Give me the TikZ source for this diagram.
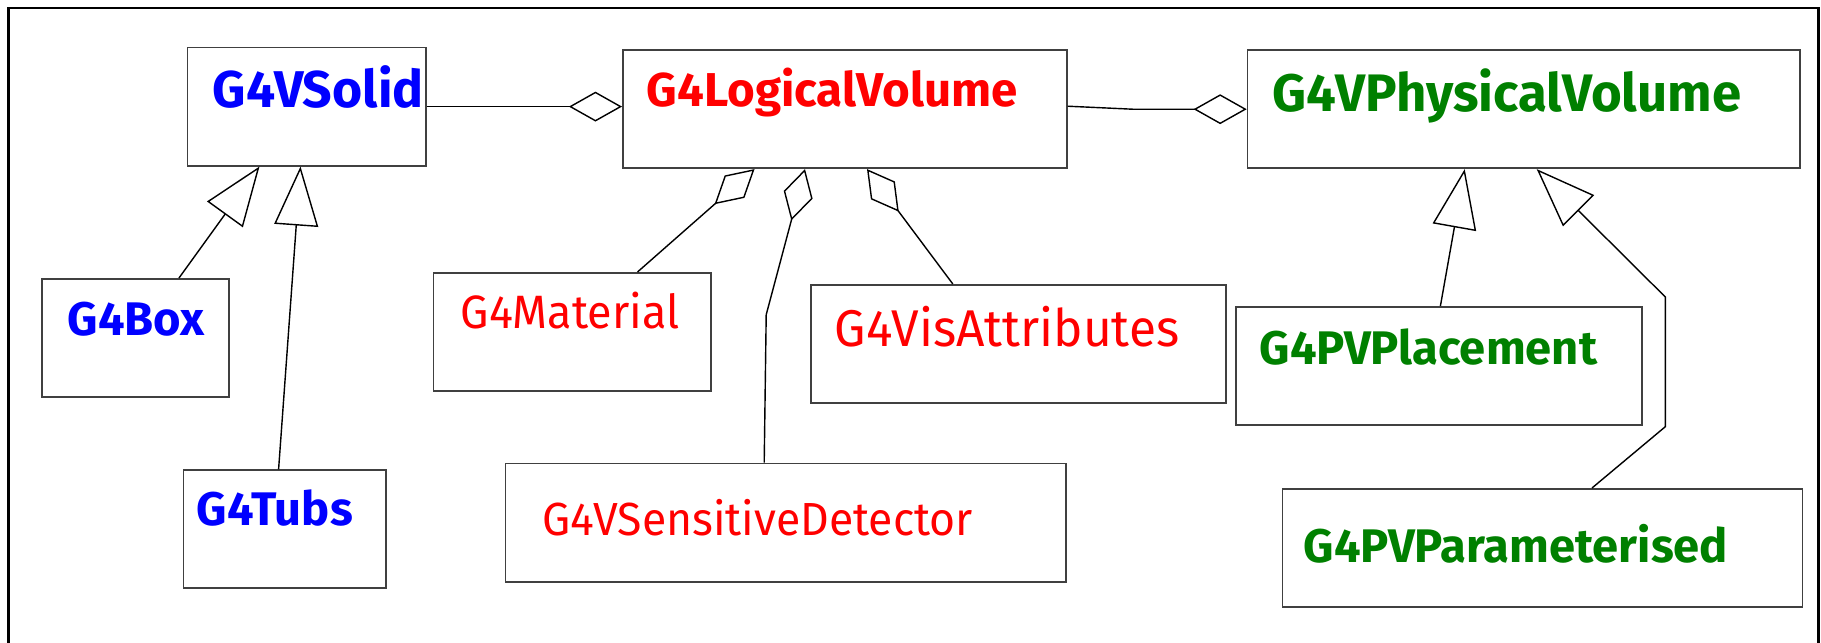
\documentclass[tikz,border=0pt]{standalone}
\usepackage{fontspec}
\setmainfont{Fira Sans}
\newfontfamily\condfont[FakeStretch=0.96]{Fira Sans}
\usetikzlibrary{arrows.meta,calc}
\definecolor{pvgreen}{RGB}{0,128,0}
\tikzset{
  cls/.style={draw=black!75, line width=0.5pt, anchor=north west, inner sep=0pt, minimum height=1.18cm},
  hdr/.style={anchor=base west, inner sep=0pt, font=\bfseries\fontsize{14.5}{17}\selectfont},
  sub/.style={anchor=base west, inner sep=0pt, font=\bfseries\fontsize{13.4}{16}\selectfont},
  reg/.style={anchor=base west, inner sep=0pt, text=red, font=\condfont\fontsize{13.3}{16}\selectfont},
  isa/.style={-{Triangle[open,length=16.8pt,width=12.5pt]}},
  has/.style={-{Diamond[open,length=15.1pt,width=8.5pt]}},
}
\begin{document}
\begin{tikzpicture}[x=0.01cm, y=-0.01cm, line width=0.4pt]
            \useasboundingbox (0,0) rectangle (1821,643);
            \draw [line width=0.65pt] (8.5,660) -- (8.5,8.3) -- (1818.6,8.3) -- (1818.6,660);
            % class boxes
            \node [cls, minimum width=2.385cm] (solid) at (186.5,46.7) {};
            \node [cls, minimum width=4.436cm] (logical) at (622,49.3) {};
            \node [cls, minimum width=5.52cm] (physical) at (1246.7,49.3) {};
            \node [cls, minimum width=1.87cm] (box) at (41,278) {};
            \node [cls, minimum width=2.024cm] (tubs) at (182.6,469.3) {};
            \node [cls, minimum width=2.775cm] (material) at (432.5,272) {};
            \node [cls, minimum width=4.152cm] (visattr) at (809.8,284) {};
            \node [cls, minimum width=5.604cm] (sensdet) at (504.6,462.7) {};
            \node [cls, minimum width=4.063cm] (placement) at (1234.9,306) {};
            \node [cls, minimum width=5.196cm] (param) at (1281.6,488) {};
            % class names
            \node [hdr, text=blue, font=\bfseries\fontsize{14.7}{17}\selectfont] (solidname) at (212,108) {G4VSolid};
            \node [hdr, text=red, font=\bfseries\fontsize{13.5}{17}\selectfont] (logicalname) at (646,107) {G4LogicalVolume};
            \node [hdr, text=pvgreen, font=\bfseries\fontsize{15}{17}\selectfont] (physicalname) at (1272,111.7) {G4VPhysicalVolume};
            \node [sub, text=blue] (boxname) at (67,336) {G4Box};
            \node [sub, text=blue] (tubsname) at (196,526) {G4Tubs};
            \node [reg] (materialname) at (460,329) {G4Material};
            \node [reg, font=\condfont\fontsize{14.7}{17}\selectfont] (visattrname) at (834,347) {G4VisAttributes};
            \node [reg, font=\condfont\fontsize{13.2}{16}\selectfont] (sensdetname) at (542,535) {G4VSensitiveDetector};
            \node [sub, text=pvgreen] (placementname) at (1259,365) {G4PVPlacement};
            \node [sub, text=pvgreen] (paramname) at (1303,563) {G4PVParameterised};
            % inheritance
            \draw [isa] ($(box.north west)+(138,0)$) -- ($(solid.south west)+(73,0)$);
            \draw [isa] ($(tubs.north west)+(96,0)$) -- ($(solid.south west)+(114,0)$);
            \draw [isa] ($(placement.north west)+(205.5,0)$) -- ($(physical.south west)+(218,0)$);
            \draw [isa] ($(param.north west)+(310.4,0)$) -- ++(73.3,-61.3) -- ++(0,-129.7) -- ($(physical.south west)+(290,0)$);
            % aggregation
            \draw [has] (solid.east) -- (solid.east -| logical.west);
            \draw [has] ($(logical.east)+(0,-3)$) -- ($(physical.west)+(-114,0)$) -- (physical.west);
            \draw [has] ($(material.north west)+(205,0)$) -- ($(logical.south west)+(132.5,0)$);
            \draw [has] ($(sensdet.north west)+(259.6,0)$) -- ++(2,-148) -- ($(logical.south west)+(183,0)$);
            \draw [has] ($(visattr.north west)+(143,0)$) -- ($(logical.south west)+(245,0)$);
        \end{tikzpicture}
\end{document}
